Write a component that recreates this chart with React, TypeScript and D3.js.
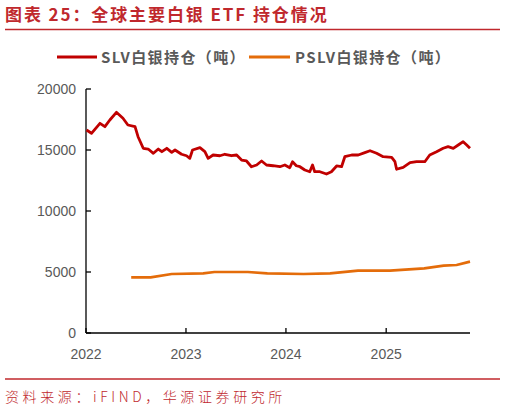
import * as d3 from 'd3';

// SLV 白银持仓（吨）
const slvDates = [
  '2022-01-03', '2022-01-21', '2022-02-21', '2022-03-11', '2022-03-29', '2022-04-22',
  '2022-05-16', '2022-06-03', '2022-06-29', '2022-07-10', '2022-07-29', '2022-08-16',
  '2022-09-04', '2022-09-22', '2022-10-05', '2022-10-23', '2022-11-10', '2022-11-22',
  '2022-12-16', '2023-01-03', '2023-01-15', '2023-01-25', '2023-02-21', '2023-03-11',
  '2023-03-23', '2023-04-10', '2023-05-05', '2023-05-23', '2023-06-16', '2023-07-05',
  '2023-07-23', '2023-08-10', '2023-08-28', '2023-09-16', '2023-10-04', '2023-10-22',
  '2023-11-15', '2023-12-10', '2023-12-28', '2024-01-15', '2024-01-25', '2024-02-08',
  '2024-02-21', '2024-03-10', '2024-03-28', '2024-04-07', '2024-04-15', '2024-05-04',
  '2024-05-28', '2024-06-15', '2024-07-04', '2024-07-22', '2024-08-03', '2024-08-28',
  '2024-09-21', '2024-10-15', '2024-11-03', '2024-11-27', '2024-12-21', '2025-01-21',
  '2025-02-02', '2025-02-08', '2025-03-04', '2025-03-29', '2025-04-22', '2025-05-22',
  '2025-06-09', '2025-07-04', '2025-07-28', '2025-08-15', '2025-09-03', '2025-09-21',
  '2025-10-09', '2025-10-22', '2025-11-03',
];
const slvValues = [
  16640, 16370, 17190, 16910, 17460, 18090,
  17600, 17050, 16910, 16090, 15140, 15080,
  14730, 15080, 14860, 15140, 14810, 15000,
  14650, 14530, 14320, 15000, 15190, 14860,
  14320, 14590, 14530, 14650, 14530, 14590,
  14180, 14100, 13630, 13770, 14100, 13770,
  13710, 13630, 13770, 13550, 14040, 13710,
  13630, 13360, 13220, 13770, 13220, 13220,
  13030, 13220, 13690, 13630, 14450, 14590,
  14590, 14780, 14940, 14730, 14450, 14400,
  14040, 13420, 13580, 13960, 14040, 14040,
  14590, 14860, 15140, 15270, 15140, 15410,
  15680, 15410, 15140,
];

// PSLV 白银持仓（吨）
const pslvDates = [
  '2022-06-15', '2022-08-25', '2022-11-10', '2023-03-05', '2023-04-15', '2023-08-15',
  '2023-10-25', '2024-03-05', '2024-06-10', '2024-09-20', '2025-01-15', '2025-05-20',
  '2025-07-30', '2025-09-15', '2025-11-03',
];
const pslvValues = [
  4560, 4560, 4840, 4890, 5000, 5000,
  4890, 4840, 4890, 5110, 5110, 5300,
  5520, 5570, 5850,
];

const yTicks = [0, 5000, 10000, 15000, 20000];
const xTickYears = ['2022', '2023', '2024', '2025'];

const RED = '#C00000';
const ORANGE = '#E46C0A';
const GRAY = '#595959';
const LATIN = '"Liberation Sans", Arial, sans-serif';
const CJK = '"Noto Sans CJK SC", "Liberation Sans", sans-serif';

export default function App() {
  const margin = { left: 86, right: 470, top: 89, bottom: 333 };
  const parse = d3.timeParse('%Y-%m-%d');

  const x = d3.scaleTime()
    .domain([new Date(2022, 0, 1), new Date(2025, 10, 3)])
    .range([margin.left, margin.right]);
  const y = d3.scaleLinear().domain([0, 20000]).range([margin.bottom, margin.top]);

  const slv = slvDates.map((d, i) => ({ date: parse(d)!, value: slvValues[i] }));
  const pslv = pslvDates.map((d, i) => ({ date: parse(d)!, value: pslvValues[i] }));

  const line = d3.line<{ date: Date; value: number }>()
    .x(d => x(d.date))
    .y(d => y(d.value));

  return (
    <svg width={506} height={413} style={{ position: 'absolute', left: 0, top: 0, background: '#fff' }}>
      {/* title */}
      <text x={5} y={21} fill="#C0282D" fontFamily={CJK} fontWeight="bold" fontSize={17} letterSpacing={1.9}>
        图表 25：全球主要白银 ETF 持仓情况
      </text>
      <line x1={5} x2={500} y1={29.5} y2={29.5} stroke="#C0282D" strokeWidth={1.5} />

      {/* legend */}
      <line x1={57} x2={97} y1={57} y2={57} stroke={RED} strokeWidth={3} />
      <text x={101} y={62.5} fill={GRAY} fontFamily={CJK} fontWeight="bold" fontSize={15} letterSpacing={1.4}>SLV白银持仓（吨）</text>
      <line x1={249} x2={290} y1={57} y2={57} stroke={ORANGE} strokeWidth={3} />
      <text x={295} y={62.5} fill={GRAY} fontFamily={CJK} fontWeight="bold" fontSize={15} letterSpacing={1.4}>PSLV白银持仓（吨）</text>

      {/* y axis */}
      <line x1={margin.left} x2={margin.left} y1={margin.top} y2={margin.bottom} stroke="#000" strokeWidth={1.3} />
      {yTicks.map(t => (
        <g key={t}>
          <line x1={margin.left} x2={margin.left + 5} y1={y(t)} y2={y(t)} stroke="#000" strokeWidth={1.3} />
          <text x={margin.left - 10} y={y(t)} dy="0.35em" textAnchor="end" fill={GRAY} fontFamily={LATIN} fontSize={14}>
            {t}
          </text>
        </g>
      ))}

      {/* x axis */}
      <line x1={margin.left} x2={margin.right} y1={margin.bottom} y2={margin.bottom} stroke="#000" strokeWidth={1.3} />
      {xTickYears.map(yr => {
        const px = x(new Date(+yr, 0, 1));
        return (
          <g key={yr}>
            <line x1={px} x2={px} y1={margin.bottom} y2={margin.bottom - 5} stroke="#000" strokeWidth={1.3} />
            <text x={px} y={359} textAnchor="middle" fill={GRAY} fontFamily={LATIN} fontSize={14}>{yr}</text>
          </g>
        );
      })}

      {/* series */}
      <path d={line(pslv) ?? ''} fill="none" stroke={ORANGE} strokeWidth={2.6} strokeLinejoin="round" />
      <path d={line(slv) ?? ''} fill="none" stroke={RED} strokeWidth={2.8} strokeLinejoin="round" />

      {/* footer */}
      <line x1={5} x2={500} y1={379} y2={379} stroke="#C0282D" strokeWidth={1.5} />
      <text x={5} y={402} fill="#C0282D" fontFamily={CJK} fontWeight={300} fontSize={14} letterSpacing={3.6}>
        资料来源：iFIND，华源证券研究所
      </text>
    </svg>
  );
}
